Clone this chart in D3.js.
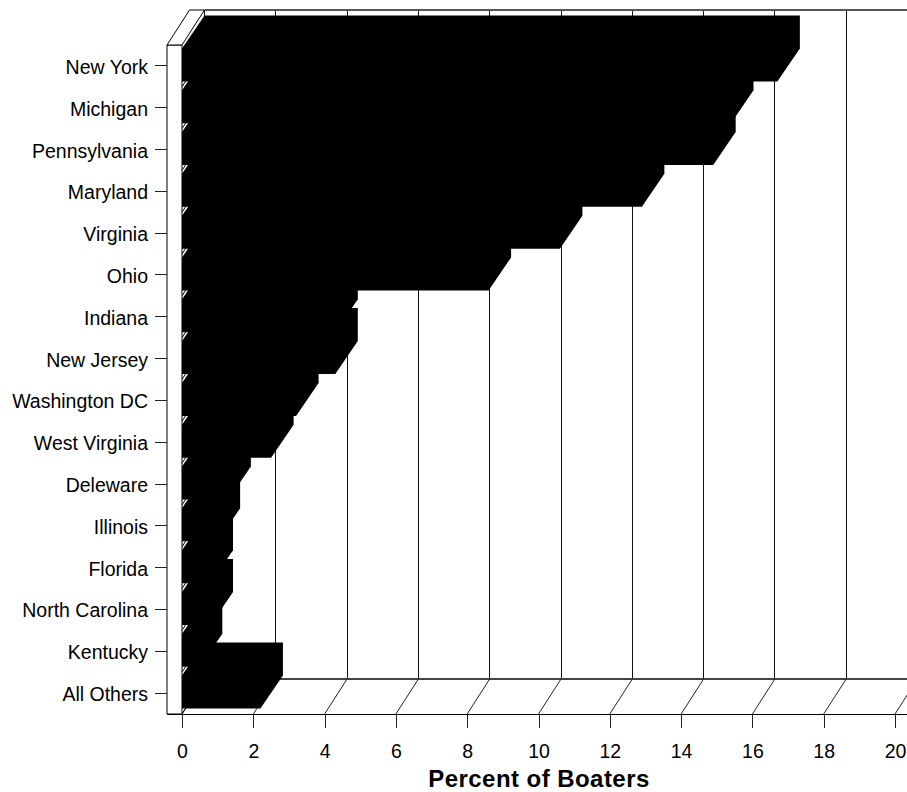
<!DOCTYPE html>
<html><head><meta charset="utf-8">
<script src="https://cdn.jsdelivr.net/npm/d3@7/dist/d3.min.js"></script>
<style>html,body{margin:0;padding:0;background:#fff;overflow:hidden}svg{display:block}
text{font-family:"Liberation Sans",Arial,sans-serif;fill:#000}
line{shape-rendering:crispEdges}</style></head><body>
<script>
const categories = ["New York","Michigan","Pennsylvania","Maryland","Virginia","Ohio","Indiana","New Jersey","Washington DC","West Virginia","Deleware","Illinois","Florida","North Carolina","Kentucky","All Others"];
const percents = [16.7,15.4,14.9,12.9,10.6,8.6,4.3,4.3,3.2,2.5,1.3,1.0,0.8,0.8,0.5,2.2];
const xTicks = [0,2,4,6,8,10,12,14,16,18,20];
const xTitle = "Percent of Boaters";

const W=907,H=792;
const x=d3.scaleLinear().domain([0,20]).range([182,895]);
const y=d3.scaleBand().domain(categories).range([45,714]).padding(0);
const dx=22.5, dy=-35, barDy=-33, barH=33;
const axisLeftX=167, floorY=714, wallTop=10;

const svg=d3.select("body").append("svg").attr("width",W).attr("height",H);
const poly=d3.line();

svg.append("g").selectAll("line").data(xTicks).join("line")
  .attr("x1",d=>x(d)+dx).attr("x2",d=>x(d)+dx).attr("y1",wallTop).attr("y2",floorY+dy)
  .attr("stroke","#111").attr("stroke-width",1);
svg.append("line").attr("x1",x(0)+dx).attr("x2",W).attr("y1",wallTop).attr("y2",wallTop)
  .attr("stroke","#555").attr("stroke-width",2);
svg.append("line").attr("x1",x(0)+dx).attr("x2",W).attr("y1",floorY+dy).attr("y2",floorY+dy)
  .attr("stroke","#444").attr("stroke-width",2);
svg.append("g").selectAll("line").data(xTicks).join("line")
  .attr("x1",d=>x(d)).attr("y1",floorY).attr("x2",d=>x(d)+dx).attr("y2",floorY+dy)
  .attr("stroke","#222").attr("stroke-width",1).style("shape-rendering","auto");

svg.append("g").selectAll("line").data(categories).join("line")
  .attr("x1",x(0)).attr("y1",d=>y(d)+y.bandwidth())
  .attr("x2",x(0)+dx).attr("y2",d=>y(d)+y.bandwidth()+dy)
  .attr("stroke","#000").attr("stroke-width",1).style("shape-rendering","auto");

const bars=svg.append("g").selectAll("path").data(categories).join("path")
  .attr("fill","#000").attr("stroke","none")
  .attr("d",(c,i)=>{
    const x0=x(0), x1=x(percents[i]);
    const yb=y(c)+y.bandwidth()/2+barH/2-1, yt=yb-barH;
    return poly([[x0,yb],[x0,yt],[x0+dx,yt+barDy],[x1+dx,yt+barDy],[x1+dx,yb+barDy],[x1,yb]])+"Z";
  });

svg.append("path").attr("fill","#fff").attr("stroke","#000").attr("stroke-width",1)
  .attr("d",poly([[axisLeftX,floorY],[axisLeftX,y.range()[0]],[x(0),y.range()[0]],[x(0),floorY]])+"Z");
svg.append("path").attr("fill","#fff").attr("stroke","#000").attr("stroke-width",1)
  .attr("d",poly([[axisLeftX,y.range()[0]],[axisLeftX+dx,wallTop],[x(0)+dx,wallTop],[x(0),y.range()[0]]])+"Z");

const axB=d3.axisBottom(x).tickValues(xTicks).tickFormat(d3.format("d")).tickSize(14).tickPadding(16);
const gB=svg.append("g").attr("transform",`translate(0,${floorY})`).call(axB);
gB.select(".domain").attr("d",`M${axisLeftX},0.5H${W}`).attr("stroke","#000").attr("stroke-width",1);
gB.selectAll("line").attr("stroke","#222");
gB.selectAll("text").style("font-size","19.5px").attr("font-family",null);

const axL=d3.axisLeft(y).tickSize(12).tickPadding(7);
const gL=svg.append("g").attr("transform",`translate(${axisLeftX},0)`).call(axL);
gL.select(".domain").remove();
gL.selectAll("line").attr("stroke","#222");
gL.selectAll("text").style("font-size","19.5px").attr("font-family",null).attr("dy","0.41em");

svg.append("text").attr("x",539).attr("y",787).attr("text-anchor","middle")
  .style("font-size","24px").style("letter-spacing","0.45px").style("font-weight","bold").text(xTitle);
</script></body></html>
